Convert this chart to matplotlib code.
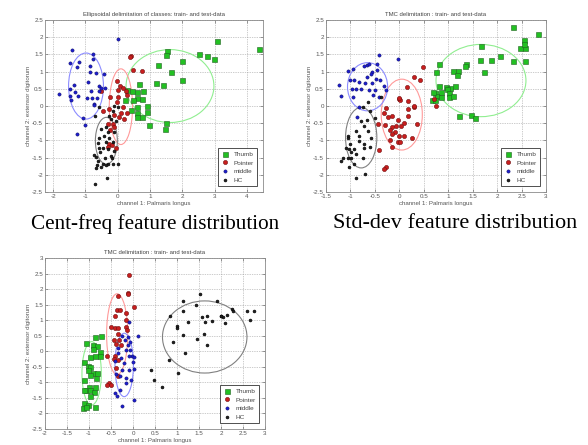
import numpy as np
import matplotlib
matplotlib.use("Agg")
import matplotlib.pyplot as plt
from matplotlib.patches import Ellipse

# ---- class styling / labels ----
CLASSES = ["Thumb", "Pointer", "middle", "HC"]
CAPTIONS = ["Cent-freq feature distribution", "Std-dev feature distribution"]
TITLES = ["Ellipsoidal delimitation of classes: train- and test-data",
          "TMC delimitation : train- and test-data",
          "TMC delimitation : train- and test-data"]
XLABEL = "channel 1: Palmaris longus"
YLABEL = "channel 2: extensor digitorum"

# ---- panel 1 (Cent-freq) ----
p1_thumb_x = [4.39, 3.08, 2.52, 2.77, 2.98, 1.98, 1.52, 1.49, 1.26, 1.66, 1.98, 1.18, 1.41, 0.67, 0.77,
              0.60, 0.75, 0.59, 0.49, 0.90, 0.92, 0.59, 0.59, 0.75, 0.60, 0.98, 1.49, 1.46, 0.41, 0.24, 0.28, 0.44]
p1_thumb_y = [1.65, 1.90, 1.52, 1.46, 1.36, 1.32, 1.60, 1.49, 1.19, 1.00, 0.77, 0.68, 0.61, 0.63, 0.44,
              0.41, 0.21, 0.23, 0.16, 0.00, -0.17, -0.04, -0.19, -0.33, -0.33, -0.56, -0.48, -0.68, -0.12, 0.16, 0.47, 0.45]
p1_pointer_x = [0.41, 0.37, 0.46, 0.74, -0.03, 0.08, 0.18, 0.26, 0.00, 0.29, -0.51, -0.24, 0.02, -0.02, -0.46,
                -0.26, 0.15, 0.10, 0.29, 0.05, 0.21, -0.29, -0.15, -0.10, -0.23, -0.26, -0.19, -0.31, -0.05, -0.10]
p1_pointer_y = [1.44, 1.43, 1.06, 1.01, 0.72, 0.57, 0.53, 0.45, 0.47, 0.33, 0.45, 0.25, 0.26, 0.11, -0.14,
                -0.09, -0.04, -0.19, -0.21, -0.33, -0.38, -0.51, -0.53, -0.62, -0.70, -1.11, -1.14, -1.18, -1.21, -0.26]
p1_middle_x = [0.00, -1.41, -1.49, -1.20, -1.26, -0.77, -0.75, -0.87, -0.85, -0.67, -1.36, -0.92, -0.59, -0.51, -0.38,
               -0.57, -0.82, -1.49, -1.31, -1.23, -1.82, -1.49, -1.44, -0.96, -0.80, -0.64, -0.72, -0.74, -1.08, -1.00, -1.25, -0.43]
p1_middle_y = [1.94, 1.62, 1.26, 1.28, 1.13, 1.52, 1.37, 1.16, 0.98, 0.96, 0.61, 0.71, 0.59, 0.53, 0.53,
               0.45, 0.45, 0.48, 0.40, 0.28, 0.35, 0.30, 0.16, 0.22, 0.22, 0.22, 0.06, 0.04, -0.36, -0.55, -0.80, 0.92]
p1_hc_x = [-0.69, -0.57, -0.15, -0.10, 0.00, -0.26, -0.21, -0.36, -0.51, -0.31, -0.41, -0.26, -0.57, -0.62, -0.36,
           -0.15, -0.46, -0.31, -0.10, -0.55, -0.72, -0.67, -0.38, -0.17, -0.61, -0.46, -0.64, -0.31, -0.15, 0.00,
           -0.51, -0.36, -0.67, -0.34, -0.69, -0.21, -0.10, -0.57, -0.05]
p1_hc_y = [-0.28, -0.04, -0.14, 0.01, -0.04, -0.28, -0.38, -0.62, -0.67, -0.77, -0.87, -0.92, -0.92, -1.09, -1.06,
           -1.06, -1.21, -1.26, -1.31, -1.35, -1.42, -1.48, -1.50, -1.50, -1.60, -1.68, -1.72, -1.68, -1.68, -1.70,
           -1.76, -1.72, -1.79, -2.09, -2.28, -1.45, -0.77, -1.21, -0.43]
p1_ell_center = [(1.62, 0.58), (0.10, -0.02), (-0.98, 0.58), (-0.35, -1.01)]
p1_ell_semi = [(1.36, 1.06), (0.36, 1.10), (0.54, 0.96), (0.34, 0.68)]

# ---- panel 2 (Std-dev) ----
p2_thumb_x = [2.33, 2.83, 2.55, 2.46, 2.58, 2.56, 2.58, 2.32, 2.06, 1.88, 1.64, 1.67, 1.73, 1.37, 1.35, 1.09, 1.20,
              1.18, 0.81, 0.75, 0.82, 0.96, 1.04, 1.14, 0.98, 1.02, 1.02, 1.09, 0.72, 0.78, 0.85, 0.68, 0.66, 0.73,
              0.85, 1.22, 1.47, 1.54]
p2_thumb_y = [2.30, 2.08, 1.91, 1.69, 1.69, 1.81, 1.32, 1.30, 1.44, 1.33, 1.35, 1.73, 0.98, 1.23, 1.15, 1.02, 1.02,
              0.90, 1.21, 1.00, 0.57, 0.54, 0.53, 0.57, 0.48, 0.37, 0.25, 0.30, 0.37, 0.30, 0.27, 0.40, 0.16, 0.18,
              0.41, -0.30, -0.26, -0.35]
p2_pointer_x = [0.48, 0.43, 0.29, 0.15, -0.01, 0.01, 0.00, 0.17, 0.31, 0.29, 0.18, -0.27, -0.31, -0.14, -0.24, 0.17,
                -0.03, 0.10, -0.07, 0.03, -0.14, -0.20, -0.29, -0.44, -0.08, -0.14, 0.00, 0.10, -0.20, -0.03, 0.01,
                -0.14, 0.26, 0.36, -0.41, -0.27, -0.32, 0.75, 0.70]
p2_pointer_y = [1.13, 0.77, 0.85, 0.55, 0.20, 0.16, 0.23, 0.14, -0.02, 0.01, -0.09, -0.06, -0.19, -0.28, -0.33, -0.28,
                -0.40, -0.48, -0.58, -0.58, -0.62, -0.70, -0.55, -0.51, -0.77, -0.82, -0.87, -0.87, -0.99, -1.04, -1.06,
                -1.19, -0.94, -0.53, -1.29, -1.76, -1.82, 0.01, 0.21]
p2_middle_x = [-0.41, -0.03, -0.94, -1.04, -0.67, -0.63, -0.72, -0.46, -0.46, -0.55, -0.58, -1.00, -0.93, -0.82, -0.70,
               -0.56, -0.48, -0.39, -1.23, -0.97, -0.89, -0.78, -0.63, -0.49, -0.27, -0.32, -1.19, -0.94, -0.53, -0.41,
               -0.83, -0.87, -0.67]
p2_middle_y = [1.49, 1.38, 1.08, 1.03, 1.20, 1.23, 1.15, 1.23, 1.06, 0.98, 0.92, 0.77, 0.77, 0.71, 0.68,
               0.66, 0.78, 0.77, 0.62, 0.50, 0.50, 0.50, 0.47, 0.47, 0.47, 0.59, 0.30, 0.25, 0.32, 0.25,
               -0.04, -0.31, 0.84]
p2_hc_x = [-0.38, -0.65, -0.61, -0.75, -0.49, -0.67, -1.04, -1.06, -1.01, -1.09, -1.02, -0.99, -0.89, -0.82, -0.83,
           -0.73, -0.61, -0.72, -0.92, -0.89, -0.99, -1.06, -1.16, -1.19, -0.75, -0.92, -1.02, -0.70, -0.89, -0.65,
           -0.72, -0.78, -0.58]
p2_hc_y = [0.27, 0.11, -0.14, -0.04, -0.36, -0.40, -0.87, -0.92, -1.11, -1.21, -1.26, -1.35, -0.72, -0.87, -1.01,
           -1.11, -1.18, -1.23, -1.26, -1.40, -1.50, -1.50, -1.50, -1.60, -1.50, -1.70, -1.77, -1.97, -2.09, -0.72,
           -0.58, -0.43, -0.92]
p2_ell_center = [(1.67, 0.74), (0.05, -0.25), (-0.65, 0.56), (-0.78, -0.92)]
p2_ell_semi = [(0.92, 1.05), (0.42, 1.03), (0.41, 0.70), (0.32, 0.88)]

# ---- panel 3 ----
p3_thumb_x = [-1.06, -0.87, -0.72, -0.92, -0.82, -0.91, -0.76, -1.12, -0.97, -0.86, -0.74, -1.03, -0.97, -0.91, -0.82,
              -1.02, -1.12, -0.83, -1.01, -1.06, -1.12, -0.97, -0.89, -0.97, -0.86, -1.12, -1.03, -1.14, -1.06, -0.87, -0.97]
p3_thumb_y = [0.28, 0.47, 0.49, 0.20, 0.17, 0.06, -0.01, -0.33, -0.20, -0.14, -0.14, -0.47, -0.51, -0.69, -0.69,
              -0.60, -0.92, -0.87, -1.14, -1.24, -1.26, -1.24, -1.32, -1.43, -1.14, -1.67, -1.73, -1.83, -1.78, -1.80, -0.76]
p3_pointer_x = [-0.10, -0.12, -0.11, -0.33, 0.03, -0.36, -0.30, -0.15, -0.40, -0.15, -0.49, -0.42, -0.33, -0.15, -0.14,
                -0.35, -0.44, -0.31, -0.38, -0.27, -0.58, -0.42, -0.44, -0.35, -0.38, -0.35, -0.55, -0.49, -0.59]
p3_pointer_y = [2.45, 1.89, 1.83, 1.78, 1.44, 1.33, 1.33, 1.24, 1.14, 1.01, 0.77, 0.76, 0.74, 0.77, 0.69,
                0.56, 0.36, 0.36, 0.23, 0.20, -0.15, -0.15, -0.26, -0.28, -0.55, -0.81, -1.03, -1.08, -1.08]
p3_middle_x = [-0.08, 0.11, -0.25, -0.11, -0.19, -0.06, -0.11, -0.33, -0.15, -0.33, -0.02, -0.10, 0.03, -0.27, -0.40,
               -0.20, 0.00, -0.25, -0.08, 0.02, -0.38, -0.30, -0.17, -0.05, -0.40, -0.36, -0.30, -0.25, 0.02, -0.17, -0.06]
p3_middle_y = [0.95, 0.49, 0.49, 0.47, 0.36, 0.31, 0.20, 0.10, 0.04, -0.06, -0.14, -0.15, -0.19, -0.22, -0.30,
               -0.39, -0.33, -0.60, -0.60, -0.58, -0.74, -0.81, -0.87, -0.94, -1.35, -1.43, -1.24, -1.75, -1.56, -1.03, 0.04]
p3_hc_x = [1.53, 1.13, 1.92, 1.44, 2.25, 2.27, 1.14, 2.59, 2.74, 0.85, 1.57, 1.68, 1.99, 2.04, 2.14, 1.25, 1.64,
           1.79, 2.09, 2.65, 1.00, 1.00, 1.13, 1.62, 1.45, 0.90, 1.68, 1.19, 0.81, 0.41, 1.02, 0.47, 0.67, 2.00]
p3_hc_y = [1.83, 1.62, 1.62, 1.49, 1.36, 1.28, 1.28, 1.31, 1.31, 1.14, 1.11, 1.15, 1.14, 1.09, 1.17, 0.95, 0.95,
           0.98, 0.92, 0.99, 0.81, 0.74, 0.53, 0.56, 0.39, 0.31, 0.20, -0.04, -0.28, -0.60, -0.71, -0.94, -1.14, 1.12]
p3_ell_center = [(-0.94, -0.71), (-0.36, 0.55), (-0.20, -0.44), (1.63, 0.46)]
p3_ell_semi = [(0.22, 1.02), (0.24, 1.30), (0.21, 1.02), (0.96, 1.16)]

PANELS = [
    dict(xs=[p1_thumb_x, p1_pointer_x, p1_middle_x, p1_hc_x], ys=[p1_thumb_y, p1_pointer_y, p1_middle_y, p1_hc_y],
         centers=p1_ell_center, semis=p1_ell_semi, xlim=(-2.25, 4.5), ylim=(-2.5, 2.5),
         xticks=np.arange(-2, 4.1, 1), yticks=np.arange(-2.5, 2.6, 0.5)),
    dict(xs=[p2_thumb_x, p2_pointer_x, p2_middle_x, p2_hc_x], ys=[p2_thumb_y, p2_pointer_y, p2_middle_y, p2_hc_y],
         centers=p2_ell_center, semis=p2_ell_semi, xlim=(-1.5, 3), ylim=(-2.5, 2.5),
         xticks=np.arange(-1.5, 3.1, 0.5), yticks=np.arange(-2.5, 2.6, 0.5)),
    dict(xs=[p3_thumb_x, p3_pointer_x, p3_middle_x, p3_hc_x], ys=[p3_thumb_y, p3_pointer_y, p3_middle_y, p3_hc_y],
         centers=p3_ell_center, semis=p3_ell_semi, xlim=(-2, 3), ylim=(-2.5, 3),
         xticks=np.arange(-2, 3.1, 0.5), yticks=np.arange(-2.5, 3.1, 0.5)),
]

# marker, face, edge, size
MARKERS = [("s", "#22c022", "#206020", 3.6), ("o", "#c81e1e", "#701010", 3.0),
           ("o", "#1e1ed2", "#101070", 2.3), ("o", "#202020", "#000000", 2.1)]
ELL_COLORS = ["#90ee90", "#ff9a9a", "#8c8cff", "#808080"]

AX_POS = [[45 / 588, 1 - 192 / 445, 218 / 588, 172 / 445],
          [326 / 588, 1 - 192 / 445, 220 / 588, 172 / 445],
          [45 / 588, 1 - 429 / 445, 220 / 588, 171 / 445]]

plt.rcParams["font.family"] = ["Liberation Sans", "DejaVu Sans"]

fig = plt.figure(figsize=(5.88, 4.45), dpi=100)

for k, panel in enumerate(PANELS):
    ax = fig.add_axes(AX_POS[k])
    for i, name in enumerate(CLASSES):
        m, fc, ec, ms = MARKERS[i]
        ax.plot(panel["xs"][i], panel["ys"][i], linestyle="none", marker=m, markersize=ms,
                markerfacecolor=fc, markeredgecolor=ec, markeredgewidth=0.4, label=name, zorder=3)
    for i in range(4):
        (cx, cy), (sx, sy) = panel["centers"][i], panel["semis"][i]
        ax.add_patch(Ellipse((cx, cy), 2 * sx, 2 * sy, fill=False, edgecolor=ELL_COLORS[i],
                             linewidth=0.8, zorder=2))
    ax.set_xlim(*panel["xlim"])
    ax.set_ylim(*panel["ylim"])
    ax.set_xticks(panel["xticks"])
    ax.set_yticks(panel["yticks"])
    ax.set_xticklabels([f"{v:g}" for v in panel["xticks"]])
    ax.set_yticklabels([f"{v:g}" for v in panel["yticks"]])
    ax.grid(True, linestyle=(0, (1, 1.5)), color="#9a9a9a", linewidth=0.5)
    ax.tick_params(direction="in", length=2, width=0.4, labelsize=4.5, colors="#555555", pad=1.5,
                   top=True, right=True)
    for sp in ax.spines.values():
        sp.set_color("#8a8a8a")
        sp.set_linewidth(0.6)
    ax.set_title(TITLES[k], fontsize=4.3, color="#444444", pad=3)
    ax.set_xlabel(XLABEL, fontsize=4.4, color="#555555", labelpad=1.5)
    ax.set_ylabel(YLABEL, fontsize=4.4, color="#555555", labelpad=1)
    leg = ax.legend(loc="lower right", fontsize=4.6, frameon=True, fancybox=False, framealpha=1,
                    edgecolor="#333333", borderpad=0.5, handletextpad=0.7, labelspacing=0.5,
                    handlelength=1.3, borderaxespad=0.9)
    leg.get_frame().set_linewidth(0.6)
    for t in leg.get_texts():
        t.set_color("#444444")

fig.text(155 / 588, 1 - 224 / 445, CAPTIONS[0], ha="center", va="center", fontsize=15.2,
         family=["Liberation Serif", "DejaVu Serif"])
fig.text(455 / 588, 1 - 224 / 445, CAPTIONS[1], ha="center", va="center", fontsize=16,
         family=["Liberation Serif", "DejaVu Serif"])

fig.savefig("out.png", dpi=100)
